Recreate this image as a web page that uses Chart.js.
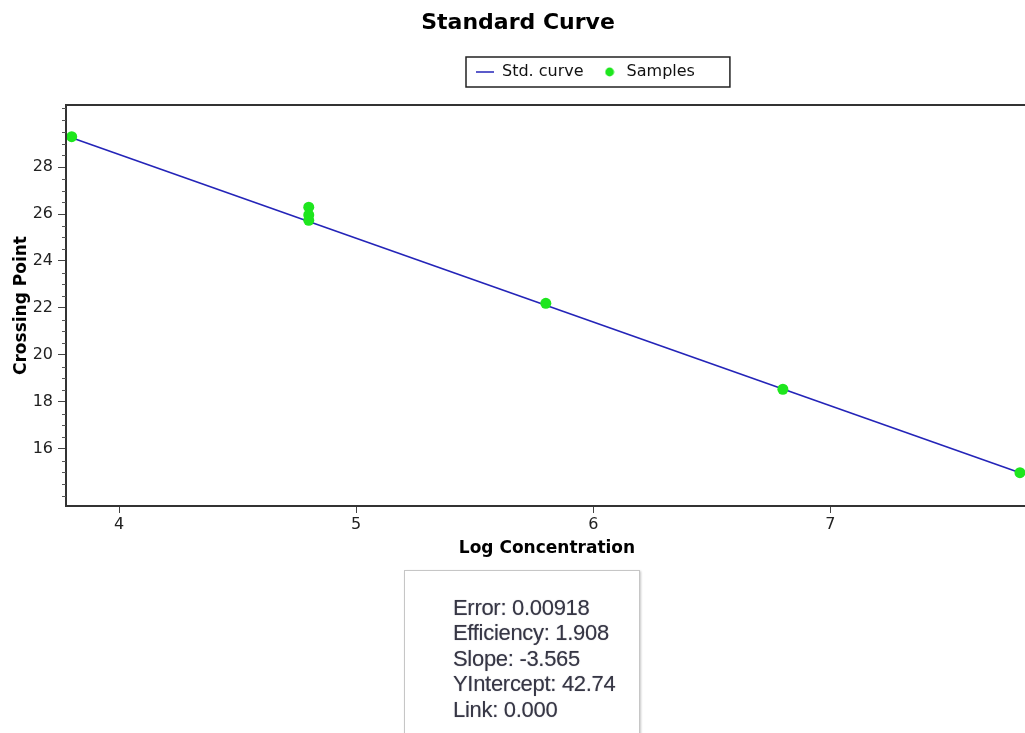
<!DOCTYPE html>
<html>
<head>
<meta charset="utf-8">
<script src="https://cdn.jsdelivr.net/npm/chart.js@4.4.1/dist/chart.umd.min.js"></script>
<style>
  html, body { margin: 0; padding: 0; background: #fff; overflow: hidden; width: 1025px; height: 733px; }
  #wrap { position: absolute; left: 0; top: 0; width: 1036px; height: 733px; }
  #info {
    position: absolute; left: 404px; top: 570px; width: 236px; height: 180px;
    box-sizing: border-box; border: 1px solid #c6c6c6; box-shadow: 1px 1px 2px rgba(0,0,0,0.22);
    background: #fff; padding: 24px 0 0 48px;
    font-family: "Liberation Sans", Arial, sans-serif; font-size: 22px; line-height: 25.4px;
    color: #363644; text-shadow: 0 0 1px rgba(70,70,90,0.5); white-space: nowrap; letter-spacing: -0.3px;
  }
</style>
</head>
<body>
<div id="wrap"><canvas id="c" width="1036" height="733"></canvas></div>
<div id="info"></div>
<script>
// ---- data ----
const seriesNames = ['Std. curve', 'Samples'];
const curveX = [3.8, 7.8];
const curveY = [29.25, 14.99];
const sampleX = [3.8, 4.8, 4.8, 4.8, 5.8, 6.8, 7.8];
const sampleY = [29.29, 26.29, 25.96, 25.73, 22.20, 18.54, 14.99];
const xTicks = [4, 5, 6, 7];
const yTicks = [16, 18, 20, 22, 24, 26, 28];
const infoLabels = ['Error', 'Efficiency', 'Slope', 'YIntercept', 'Link'];
const infoValues = ['0.00918', '1.908', '-3.565', '42.74', '0.000'];

// ---- info box text ----
document.getElementById('info').innerHTML =
  infoLabels.map((l, i) => l + ': ' + infoValues[i]).join('<br>');

// ---- layout constants ----
const LEGEND_GAP = 15;
const LEGEND_ITEMS_LEFT = 476;
const Y_MINOR_STEP = 0.5;

const dot = document.createElement('canvas');
dot.width = 10; dot.height = 10;
(function () {
  const g = dot.getContext('2d');
  g.fillStyle = '#1ee61e';
  g.beginPath(); g.arc(5, 5, 4.4, 0, Math.PI * 2); g.fill();
})();

function legendGeom(lg) {
  const p = lg.options.labels.padding;
  const x0 = (lg.left + p + lg.right - lg.lineWidths[0]) / 2;
  return { p, x0, x1: x0 + lg.lineWidths[0] - p };
}

const framePlugin = {
  id: 'frame',
  beforeLayout(chart) {
    const lg = chart.legend;
    if (lg && !lg._gapPatched) {
      const fit = lg.fit;
      lg.fit = function () { fit.call(this); this.height += LEGEND_GAP; };
      lg._gapPatched = true;
    }
  },
  afterLayout(chart) {
    const lg = chart.legend;
    if (!lg || !lg.lineWidths) return;
    const dx = LEGEND_ITEMS_LEFT - legendGeom(lg).x0;
    lg.left += dx; lg.right += dx;
  },
  afterDraw(chart) {
    const { ctx, chartArea: a, scales: { y } } = chart;
    ctx.save();
    // legend frame
    const lg = chart.legend;
    const g = legendGeom(lg);
    const cy = lg.top + g.p + 8;
    ctx.strokeStyle = '#222';
    ctx.lineWidth = 1.5;
    ctx.strokeRect(g.x0 - 10, cy - 15, (g.x1 + 35) - (g.x0 - 10), 30);
    // plot frame
    ctx.strokeStyle = '#333';
    ctx.lineWidth = 2;
    ctx.strokeRect(a.left, a.top, a.right - a.left, a.bottom - a.top);
    // y minor ticks
    ctx.strokeStyle = '#555';
    ctx.lineWidth = 1;
    for (let v = Math.ceil(y.min / Y_MINOR_STEP) * Y_MINOR_STEP; v <= y.max; v += Y_MINOR_STEP) {
      if (yTicks.indexOf(v) >= 0) continue;
      const py = Math.round(y.getPixelForValue(v)) + 0.5;
      ctx.beginPath(); ctx.moveTo(a.left - 4, py); ctx.lineTo(a.left, py); ctx.stroke();
    }
    ctx.restore();
  }
};

new Chart(document.getElementById('c'), {
  type: 'scatter',
  data: {
    datasets: [
      {
        label: seriesNames[0],
        data: curveX.map((x, i) => ({ x, y: curveY[i] })),
        showLine: true,
        borderColor: '#2424b8',
        backgroundColor: '#2424b8',
        borderWidth: 1.6,
        pointRadius: 0,
        pointStyle: 'line',
        order: 1
      },
      {
        label: seriesNames[1],
        data: sampleX.map((x, i) => ({ x, y: sampleY[i] })),
        backgroundColor: '#1ee61e',
        borderColor: '#1ee61e',
        borderWidth: 0,
        pointRadius: 5.5,
        order: 0
      }
    ]
  },
  options: {
    responsive: false,
    animation: false,
    events: [],
    layout: { padding: { left: 8, right: 8, top: 0, bottom: 0 } },
    plugins: {
      tooltip: { enabled: false },
      title: {
        display: true,
        text: 'Standard Curve',
        color: '#000',
        font: { family: 'DejaVu Sans', size: 22, weight: 'bold' },
        padding: { top: 10.3, bottom: 10.3 }
      },
      legend: {
        display: true,
        position: 'top',
        labels: {
          usePointStyle: true,
          pointStyleWidth: 18,
          boxHeight: 12,
          padding: 17,
          color: '#111',
          font: { family: 'DejaVu Sans', size: 16 },
          generateLabels(chart) {
            const items = Chart.defaults.plugins.legend.labels.generateLabels(chart);
            items.forEach(it => { if (it.datasetIndex === 1) it.pointStyle = dot; });
            return items.sort((a, b) => a.datasetIndex - b.datasetIndex);
          }
        }
      }
    },
    scales: {
      x: {
        type: 'linear',
        min: 3.776,
        max: 7.834,
        afterBuildTicks(s) { s.ticks = xTicks.map(v => ({ value: v })); },
        afterFit(s) { s.height = 733 - 506; },
        border: { display: false },
        grid: { drawOnChartArea: false, drawTicks: true, tickLength: 7, tickColor: '#444' },
        ticks: {
          padding: 2,
          color: '#222',
          font: { family: 'DejaVu Sans', size: 16 },
          maxRotation: 0
        },
        title: {
          display: true,
          text: 'Log Concentration',
          color: '#000',
          font: { family: 'DejaVu Sans', size: 17, weight: 'bold' },
          padding: { top: 0, bottom: 173.8 }
        }
      },
      y: {
        type: 'linear',
        min: 13.57,
        max: 30.64,
        afterBuildTicks(s) { s.ticks = yTicks.map(v => ({ value: v })); },
        afterFit(s) { s.width = 58; },
        border: { display: false },
        grid: { drawOnChartArea: false, drawTicks: true, tickLength: 8, tickColor: '#444' },
        ticks: {
          padding: 5,
          color: '#222',
          font: { family: 'DejaVu Sans', size: 16 }
        },
        title: {
          display: true,
          text: 'Crossing Point',
          color: '#000',
          font: { family: 'DejaVu Sans', size: 17, weight: 'bold' },
          padding: { top: 3, bottom: 0 }
        }
      }
    }
  },
  plugins: [framePlugin]
});
</script>
</body>
</html>
